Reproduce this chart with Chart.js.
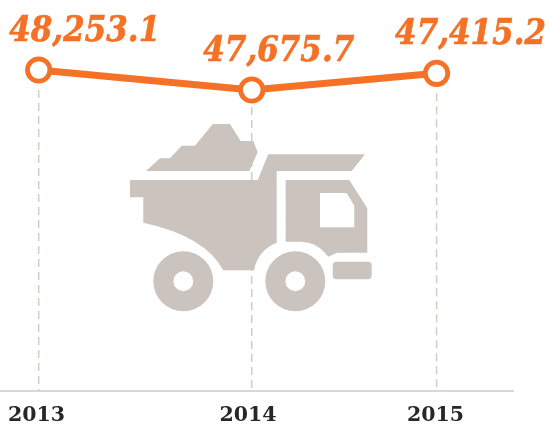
<!DOCTYPE html>
<html>
<head>
<meta charset="utf-8">
<title>Chart</title>
<script src="https://cdn.jsdelivr.net/npm/chart.js@4/dist/chart.umd.js"></script>
<style>
  html, body { margin: 0; padding: 0; background: #fff; }
  canvas { display: block; }
</style>
</head>
<body>
<canvas id="chart" width="549" height="428"></canvas>
<script>
// Years sit unevenly along the axis in the picture, so x is a linear position
const yearLabels = ["2013", "2014", "2015"];
const yearPositions = [2013, 2014.153, 2015.153];
// The year labels are not quite centred under their points
const tickPositions = [2012.988, 2014.133, 2015.147];

// Printed values
const valueLabels = ["48,253.1", "47,675.7", "47,415.2"];
// Height of the line (the last point is drawn higher than its printed value)
const plottedValues = [48253.1, 47675.7, 48158];

const ORANGE = "#f47125";
const TRUCK = "#cbc3bd";
const DASH = "#d3ccc7";

// Label placement relative to each point, px
const labelShift = [46, 27, 34];
const dropGap = [20, 17, 20];

function poly(ctx, pts) {
  ctx.beginPath();
  pts.forEach((p, i) => (i ? ctx.lineTo(p[0], p[1]) : ctx.moveTo(p[0], p[1])));
  ctx.closePath();
}

function drawTruck(ctx) {
  ctx.save();
  ctx.fillStyle = TRUCK;

  // load
  poly(ctx, [[146, 171], [160, 158.3], [170, 158.3], [181.7, 145.7], [195, 145.7], [212.7, 124],
    [230, 124], [240.7, 141], [253.3, 141], [257.7, 152.3], [249.3, 171]]);
  ctx.fill();

  // dump body
  ctx.beginPath();
  ctx.moveTo(130, 180);
  ctx.lineTo(257.7, 180);
  ctx.lineTo(268.3, 154.3);
  ctx.lineTo(365, 154.3);
  ctx.lineTo(351.7, 171);
  ctx.lineTo(276.7, 171);
  ctx.lineTo(276.7, 242.7);
  ctx.quadraticCurveTo(258, 250, 254, 270.3);
  ctx.lineTo(223.3, 270.3);
  ctx.quadraticCurveTo(205, 236, 143.3, 222.7);
  ctx.lineTo(143.3, 197.3);
  ctx.lineTo(130, 197.3);
  ctx.closePath();
  ctx.fill();

  // cab, window cut out
  ctx.beginPath();
  ctx.moveTo(285.7, 180);
  ctx.lineTo(349.3, 180);
  ctx.lineTo(367.3, 208.3);
  ctx.lineTo(367.3, 252.7);
  ctx.lineTo(337, 252.7);
  ctx.lineTo(328.3, 256.7);
  ctx.quadraticCurveTo(317, 241.7, 300, 241.7);
  ctx.lineTo(285.7, 241.7);
  ctx.closePath();
  ctx.moveTo(320, 193);
  ctx.lineTo(320, 227.3);
  ctx.lineTo(354.3, 227.3);
  ctx.lineTo(354.3, 205.7);
  ctx.lineTo(346.7, 193);
  ctx.closePath();
  ctx.fill();

  // wheels
  [183.3, 295.3].forEach((x) => {
    ctx.beginPath();
    ctx.arc(x, 281.3, 30, 0, Math.PI * 2);
    ctx.arc(x, 281.3, 10, 0, Math.PI * 2, true);
    ctx.fill();
  });

  // bumper
  ctx.beginPath();
  ctx.roundRect(332.7, 261.7, 39, 17.5, 4);
  ctx.fill();
  ctx.restore();
}

const truckAndDrops = {
  id: "truckAndDrops",
  beforeDatasetsDraw(chart) {
    const { ctx, scales } = chart;
    ctx.save();
    ctx.strokeStyle = DASH;
    ctx.lineWidth = 1.5;
    ctx.setLineDash([8, 5]);
    yearPositions.forEach((pos, i) => {
      const x = scales.x.getPixelForValue(pos);
      ctx.beginPath();
      ctx.moveTo(x, scales.y.getPixelForValue(plottedValues[i]) + dropGap[i]);
      ctx.lineTo(x, scales.y.bottom);
      ctx.stroke();
    });
    ctx.restore();
    drawTruck(ctx);
  }
};

const valueText = {
  id: "valueText",
  afterDatasetsDraw(chart) {
    const { ctx } = chart;
    const points = chart.getDatasetMeta(0).data;
    ctx.fillStyle = ORANGE;
    ctx.strokeStyle = ORANGE;
    ctx.lineWidth = 0.6;
    ctx.font = "italic bold 31px 'DejaVu Serif'";
    ctx.textAlign = "center";
    ctx.textBaseline = "alphabetic";
    points.forEach((pt, i) => {
      // reference digits are taller than DejaVu's, so stretch a little
      ctx.save();
      ctx.translate(pt.x + labelShift[i], pt.y - 29.5);
      ctx.scale(1, 1.12);
      ctx.fillText(valueLabels[i], 0, 0);
      ctx.strokeText(valueLabels[i], 0, 0);
      ctx.restore();
    });
  }
};

new Chart(document.getElementById("chart"), {
  type: "line",
  data: {
    datasets: [{
      data: yearPositions.map((x, i) => ({ x: x, y: plottedValues[i] })),
      borderColor: ORANGE,
      borderWidth: 7,
      backgroundColor: "#fff",
      pointBackgroundColor: "#fff",
      pointBorderColor: ORANGE,
      pointBorderWidth: 4.8,
      pointRadius: 11.2,
      tension: 0,
      clip: false
    }]
  },
  options: {
    responsive: false,
    animation: false,
    layout: { autoPadding: false, padding: { left: 0, right: 36, top: 0, bottom: 0 } },
    plugins: { legend: { display: false }, tooltip: { enabled: false } },
    scales: {
      x: {
        type: "linear",
        min: 2012.7906,
        max: 2015.5666,
        afterBuildTicks(scale) {
          scale.ticks = tickPositions.map((v) => ({ value: v }));
        },
        afterFit(scale) {
          scale.height = 37;
          scale.paddingLeft = 0;
          scale.paddingRight = 0;
        },
        grid: { display: false, drawTicks: false },
        border: { display: true, color: "#ddd7d3", width: 2 },
        ticks: {
          autoSkip: false,
          maxRotation: 0,
          padding: 12,
          color: "#2b2626",
          font: { family: "'DejaVu Serif'", weight: "bold", size: 20.5 },
          callback: (value, index) => yearLabels[index]
        }
      },
      y: { display: false, min: 38986, max: 50274 }
    }
  },
  plugins: [truckAndDrops, valueText]
});
</script>
</body>
</html>
